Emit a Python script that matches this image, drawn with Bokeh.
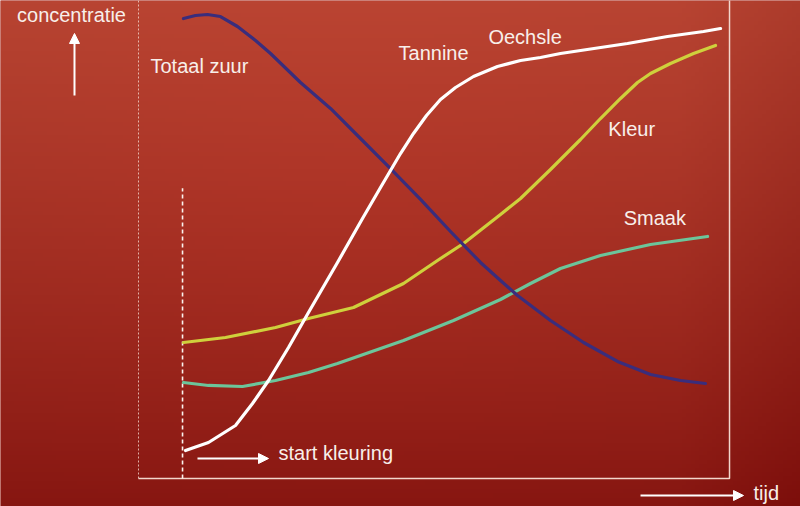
import numpy as np
from bokeh.plotting import figure
from bokeh.models import Range1d, Arrow, NormalHead
from bokeh.core.properties import value
from bokeh.embed import file_html
from bokeh.resources import INLINE

# ---------------- data (time 0..100, concentration 0..100) ----------------
zuur_t = [7.61, 9.64, 11.68, 13.87, 16.75, 19.80, 22.34, 27.41, 32.49, 37.56, 42.64, 47.72, 52.79, 57.87, 61.25, 64.13, 69.71, 75.30, 81.05, 86.63, 91.71, 95.94]
zuur_c = [96.23, 96.86, 97.07, 96.65, 94.56, 91.63, 88.91, 82.85, 77.41, 71.13, 64.85, 58.37, 51.67, 45.19, 41.42, 38.28, 33.05, 28.45, 24.48, 21.76, 20.50, 19.87]

tannine_t = [7.95, 11.84, 16.41, 19.29, 22.00, 25.38, 28.76, 33.67, 37.90, 40.95, 44.33, 46.53, 48.73, 51.10, 53.64, 56.68, 60.74, 64.64, 68.02, 71.40, 82.74, 89.51, 95.60, 98.48]
tannine_c = [5.86, 7.53, 11.09, 15.69, 20.50, 27.41, 34.73, 45.19, 54.39, 60.88, 67.99, 72.18, 75.94, 79.29, 81.80, 84.10, 86.19, 87.45, 88.08, 88.91, 91.00, 92.47, 93.51, 94.14]

kleur_t = [7.61, 14.72, 23.18, 28.76, 36.38, 44.84, 50.59, 54.99, 61.25, 64.64, 69.71, 74.79, 78.17, 81.56, 84.43, 86.63, 90.02, 93.91, 97.63]
kleur_c = [28.45, 29.50, 31.59, 33.47, 35.77, 40.79, 45.61, 49.16, 55.23, 58.58, 64.64, 70.92, 75.31, 79.50, 82.85, 84.73, 86.82, 88.91, 90.59]

smaak_t = [7.61, 11.84, 17.60, 23.18, 28.76, 33.67, 44.84, 53.30, 61.25, 66.33, 71.40, 78.17, 86.63, 96.28]
smaak_c = [20.08, 19.46, 19.25, 20.50, 22.18, 24.06, 28.87, 33.05, 37.45, 40.79, 43.93, 46.65, 48.95, 50.63]

start_t = 7.45          # start kleuring
start_top = 60.7

labels = ["Totaal zuur", "Tannine", "Oechsle", "Kleur", "Smaak"]
label_t = [2.03, 44.0, 59.2, 79.5, 82.1]
label_c = [86.4, 89.1, 92.3, 73.2, 54.4]

# ---------------- figure ----------------
W, H = 800, 506
x0, x1 = -23.35, 112.01
y0, y1 = -5.86, 100.0

p = figure(width=W, height=H, x_range=Range1d(x0, x1), y_range=Range1d(y0, y1),
           output_backend="svg", toolbar_location=None, min_border=0)
p.xaxis.visible = False
p.yaxis.visible = False
p.grid.visible = False
p.outline_line_color = None
p.background_fill_color = "#a52c22"
p.border_fill_color = "#a52c22"

# background gradient (photo-like red card)
ny, nx = 120, 190
yy, xx = np.mgrid[0:ny, 0:nx]
fy = yy / (ny - 1)          # 0 bottom, 1 top
fx = xx / (nx - 1)
top = np.array([182, 68, 50], float)
bot = np.array([134, 22, 17], float)
tv = np.clip(fy, 0, 1) ** 0.9
col = bot[None, None, :] * (1 - tv[..., None]) + top[None, None, :] * tv[..., None]
glow = np.exp(-(((fx - 0.45) / 0.45) ** 2 + ((fy - 0.6) / 0.5) ** 2))
col = col + glow[..., None] * np.array([8, 0, 0])
edge = np.clip((fx - 0.85) / 0.15, 0, 1)
col = col - edge[..., None] * np.array([10, 8, 6])
img = np.empty((ny, nx), dtype=np.uint32)
view = img.view(dtype=np.uint8).reshape((ny, nx, 4))
view[..., 0] = np.clip(col[..., 0], 0, 255)
view[..., 1] = np.clip(col[..., 1], 0, 255)
view[..., 2] = np.clip(col[..., 2], 0, 255)
view[..., 3] = 255
p.image_rgba(image=[img], x=x0, y=y0, dw=x1 - x0, dh=y1 - y0)

frame_col = "#f3d6cc"
# frame: bottom + right solid, left dotted
p.line([0, 100, 100], [0, 0, y1 + 5], line_color=frame_col, line_width=1.5)
p.line([0, 0], [0, y1 + 5], line_color=frame_col, line_width=1, line_dash="2 2", line_alpha=0.8)

# start kleuring dashed line
p.line([start_t, start_t], [0, start_top], line_color="#fbf3ee", line_width=1.6, line_dash="4 3")

# curves
lw = 3.2
p.line(smaak_t, smaak_c, line_color="#6cc59a", line_width=lw, line_cap="round", line_join="round")
p.line(kleur_t, kleur_c, line_color="#cfd03c", line_width=lw, line_cap="round", line_join="round")
p.line(zuur_t, zuur_c, line_color="#3a2d7c", line_width=lw, line_cap="round", line_join="round")
p.line(tannine_t, tannine_c, line_color="#ffffff", line_width=lw, line_cap="round", line_join="round")

txt_font = value("Liberation Sans")
txt_col = "#f8efea"
fs = "20px"
p.text(x=label_t, y=label_c, text=labels, text_font=txt_font, text_font_size=fs,
       text_color=txt_col, text_align="left", text_baseline="middle")

# axis arrows and texts
p.text(x=[-11.34], y=[97.07], text=["concentratie"], text_font=txt_font, text_font_size=fs,
       text_color=txt_col, text_align="center", text_baseline="middle")
p.add_layout(Arrow(end=NormalHead(size=10, fill_color="#ffffff", line_color="#ffffff"),
                   x_start=-10.83, y_start=80.13, x_end=-10.83, y_end=93.1,
                   line_color="#ffffff", line_width=2))
p.text(x=[104.06], y=[-3.14], text=["tijd"], text_font=txt_font, text_font_size=fs,
       text_color=txt_col, text_align="left", text_baseline="middle")
p.add_layout(Arrow(end=NormalHead(size=10, fill_color="#ffffff", line_color="#ffffff"),
                   x_start=84.94, y_start=-3.56, x_end=102.37, y_end=-3.56,
                   line_color="#ffffff", line_width=2))
p.text(x=[23.69], y=[5.23], text=["start kleuring"], text_font=txt_font, text_font_size=fs,
       text_color=txt_col, text_align="left", text_baseline="middle")
p.add_layout(Arrow(end=NormalHead(size=10, fill_color="#ffffff", line_color="#ffffff"),
                   x_start=9.98, y_start=4.18, x_end=22.0, y_end=4.18,
                   line_color="#ffffff", line_width=2))

open("out.html", "w").write(file_html(p, INLINE))
